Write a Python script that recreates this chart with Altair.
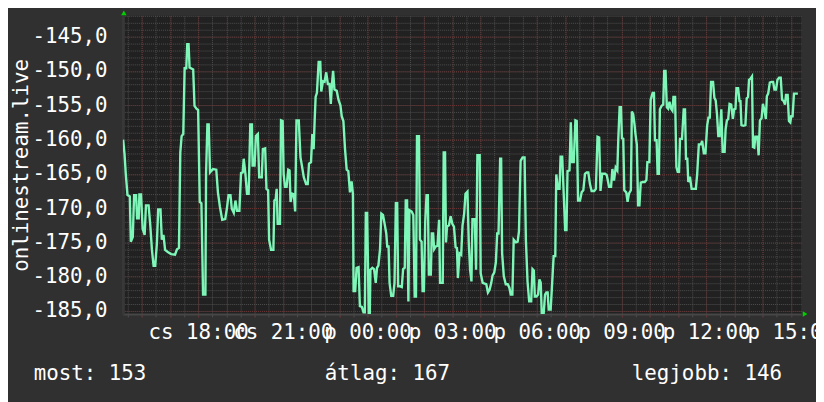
import altair as alt
import pandas as pd

# ---- data: minutes after Thursday 18:00 ----
t1 = [-159.5, -156.5, -153.7, -150.2, -145.2, -143.1, -138.9, -136.1, -131.9, -129.8,
      -126.3, -124.9, -121.4, -117.9, -113.7, -110.9, -105.3, -101.7, -98.2, -94.7,
      -91.2, -87.7, -84.9, -80.0, -77.2, -73.7, -70.2, -64.5, -57.5, -49.1,
      -44.9, -40.7, -37.9, -35.1, -31.6, -28.7, -25.2, -23.1, -20.3, -18.2,
      -10.5, -7.7, -3.5, 0.0, 3.5, 7.0, 10.5, 15.5, 16.9, 19.7,
      22.5, 25.3, 31.6, 38.6, 42.1, 46.3, 51.2, 57.6, 61.1, 64.6,
      68.8, 71.6, 75.8, 79.3, 82.8, 87.7, 91.2, 94.8, 96.9, 100.4,
      103.9, 107.4, 110.9, 114.4, 115.8, 120.0]
v1 = [-160.0, -162.1, -165.1, -168.1, -168.3, -174.9, -174.2, -168.1, -168.1, -171.5,
      -171.5, -168.0, -168.0, -173.0, -173.9, -169.6, -169.6, -172.5, -176.1, -178.4,
      -178.4, -175.2, -170.2, -170.2, -174.6, -173.9, -176.1, -176.4, -176.7, -176.8,
      -176.0, -175.8, -161.9, -159.5, -159.2, -149.6, -149.6, -146.1, -146.1, -149.5,
      -149.8, -155.1, -155.5, -155.7, -169.1, -169.3, -182.6, -182.6, -165.0, -157.8,
      -157.8, -164.8, -164.3, -164.4, -167.7, -169.8, -171.7, -171.6, -170.1, -168.1,
      -168.1, -170.1, -170.7, -168.9, -170.4, -170.4, -164.9, -164.8, -162.8, -164.9,
      -167.9, -167.9, -157.8, -157.8, -163.8, -163.8]

t2 = [122.8, 127.0, 129.8, 135.4, 137.6, 142.5, 145.3, 148.8, 150.9, 155.1,
      160.0, 162.1, 164.9, 167.0, 169.1, 174.0, 176.2, 179.7, 181.8, 184.6,
      188.1, 191.6, 194.4, 196.5, 200.0, 203.5, 206.3, 209.1, 214.0, 217.6,
      221.1, 224.6, 229.5, 233.0, 235.8, 240.0, 242.8, 245.6, 247.7, 249.8,
      252.6, 256.2, 259.7, 261.8, 265.3, 268.8, 272.3, 275.8, 279.3, 282.1,
      284.9, 287.0, 289.8, 294.7, 298.3, 302.5, 305.3, 308.8, 312.3, 315.8,
      319.3, 322.8, 326.3, 329.1, 330.5, 334.0, 336.9, 341.1, 343.9, 348.1,
      351.6, 354.4, 356.5, 359.3, 362.8, 364.9, 366.3, 370.5, 374.0, 377.6,
      380.4, 383.2, 386.7, 389.5, 393.0, 396.5, 400.0]
v2 = [-159.5, -159.2, -165.5, -165.5, -161.4, -161.3, -167.2, -167.4, -174.6, -176.1,
      -176.1, -168.9, -168.7, -167.2, -172.3, -172.3, -157.2, -157.3, -165.0, -166.9,
      -166.9, -164.4, -164.5, -169.1, -167.9, -168.0, -170.5, -157.2, -157.2, -162.6,
      -164.0, -165.5, -166.5, -166.5, -163.5, -163.3, -159.2, -161.4, -157.3, -153.8,
      -153.2, -148.7, -148.7, -153.0, -151.5, -151.6, -150.2, -151.9, -151.9, -154.8,
      -151.6, -150.0, -152.7, -152.9, -154.2, -155.0, -156.6, -157.3, -161.4, -164.4,
      -164.6, -167.7, -166.1, -167.9, -182.1, -182.1, -178.7, -178.6, -184.3, -184.4,
      -185.2, -185.2, -170.7, -170.7, -185.5, -185.5, -179.0, -178.7, -178.9, -180.9,
      -178.7, -178.4, -176.0, -170.8, -171.0, -172.3, -173.7]

t3 = [402.1, 404.9, 407.0, 410.5, 414.7, 417.5, 420.4, 423.2, 425.3, 429.5,
      433.0, 435.8, 439.3, 441.4, 444.2, 447.0, 449.1, 454.0, 457.5, 460.4,
      463.2, 465.3, 469.5, 471.6, 475.1, 477.2, 480.0, 482.8, 485.6, 488.4,
      490.5, 494.7, 496.8, 499.6, 501.8, 505.3, 508.8, 512.3, 514.4, 520.0,
      522.1, 524.9, 527.0, 529.1, 533.3, 536.8, 540.4, 543.9, 547.4, 550.2,
      552.3, 555.8, 559.3, 562.1, 565.6, 568.4, 572.6, 575.4, 578.2, 581.1,
      583.2, 588.1, 590.9, 593.7, 598.6, 600.7, 604.9, 609.1, 612.6, 616.1,
      619.6, 623.2, 626.0, 629.5, 633.0, 635.8, 638.6, 642.1, 644.2, 646.3,
      649.8, 654.0, 658.2, 661.7, 664.6, 668.1, 670.9, 675.8, 679.3, 682.1,
      685.6, 689.8]
v3 = [-175.6, -175.6, -180.9, -182.8, -182.8, -180.9, -169.3, -169.3, -181.4, -181.4,
      -181.5, -178.9, -178.7, -168.9, -168.9, -183.6, -170.3, -170.5, -171.0, -182.9,
      -182.9, -159.5, -159.5, -174.6, -174.9, -182.1, -182.1, -172.0, -168.1, -168.1,
      -179.7, -179.7, -173.7, -173.7, -176.0, -175.6, -175.5, -171.7, -180.9, -180.9,
      -161.9, -161.9, -175.0, -172.7, -172.5, -171.2, -172.3, -172.7, -175.7, -175.8,
      -180.2, -176.6, -176.8, -172.5, -170.8, -167.9, -167.6, -175.1, -179.0, -180.7,
      -171.6, -171.6, -179.0, -162.3, -162.3, -179.5, -180.9, -181.0, -181.1, -182.3,
      -181.9, -180.9, -179.8, -179.4, -177.9, -173.7, -173.7, -162.8, -162.8, -176.6,
      -179.9, -181.1, -181.1, -181.6, -182.6, -182.6, -174.6, -175.0, -174.9, -173.4,
      -163.1, -162.6]

t4 = [694.0, 696.8, 700.3, 703.8, 708.1, 710.9, 713.7, 715.8, 719.3, 722.8,
      725.6, 728.4, 730.5, 734.7, 737.5, 740.3, 743.1, 745.3, 749.5, 752.3,
      755.8, 759.3, 761.4, 764.9, 768.4, 770.5, 774.0, 776.8, 780.3, 783.1,
      785.3, 789.5, 792.3, 795.1, 798.6, 802.1, 804.9, 807.7, 811.9, 815.4,
      818.9, 822.4, 826.0, 829.5, 833.0, 836.5, 842.1, 845.6, 849.1, 852.6,
      855.4, 858.9, 865.3, 868.8, 873.7, 877.9, 880.7, 884.2, 887.7, 891.2,
      893.3, 896.1, 898.9, 901.0, 903.8, 906.0, 910.2, 913.0, 915.8, 920.0,
      922.1, 924.9, 927.7, 929.8, 932.6, 935.4, 938.2, 941.0, 945.3, 949.5,
      953.0, 955.1, 959.3, 962.1, 966.3, 969.1, 971.2, 974.7]
v4 = [-162.6, -174.6, -180.7, -183.6, -183.6, -178.9, -179.1, -182.9, -182.9, -182.6,
      -180.4, -180.9, -185.3, -185.3, -182.6, -182.3, -182.3, -184.8, -184.8, -181.4,
      -177.0, -177.0, -165.1, -167.2, -167.2, -162.5, -162.5, -167.2, -173.2, -173.2,
      -164.6, -164.5, -157.5, -163.3, -163.3, -157.2, -157.3, -168.9, -168.9, -167.7,
      -167.4, -165.0, -164.8, -164.8, -166.5, -167.5, -167.5, -167.2, -159.6, -159.7,
      -167.5, -165.0, -165.0, -165.2, -166.9, -166.9, -164.3, -166.0, -164.1, -164.5,
      -159.9, -155.3, -155.3, -159.8, -159.9, -167.4, -167.7, -169.1, -167.9, -167.4,
      -155.9, -156.3, -157.8, -159.2, -160.7, -169.6, -169.6, -166.3, -166.2, -166.2,
      -165.9, -163.3, -163.3, -154.2, -153.2, -153.2, -160.1, -160.1]

t5 = [976.8, 979.6, 981.7, 985.2, 988.8, 990.9, 993.7, 996.5, 999.3, 1002.1,
      1005.6, 1008.4, 1010.5, 1014.0, 1016.8, 1019.6, 1022.4, 1024.5, 1028.7, 1032.3,
      1035.1, 1037.2, 1040.0, 1042.1, 1045.6, 1049.1, 1054.0, 1058.2, 1061.0, 1064.5,
      1068.8, 1071.6, 1075.1, 1078.6, 1082.1, 1084.9, 1087.7, 1090.5, 1094.7, 1097.5,
      1100.3, 1103.1, 1105.9, 1108.8, 1112.3, 1115.1, 1119.3, 1121.4, 1124.2, 1127.0,
      1129.8, 1133.3, 1136.8, 1139.6, 1142.4, 1144.5, 1148.0, 1150.9, 1153.0, 1155.1,
      1159.3, 1163.5, 1166.3, 1169.1, 1171.2, 1174.7, 1177.5, 1179.6, 1182.4, 1184.5,
      1188.7, 1191.6, 1194.4, 1197.9, 1200.7, 1204.2, 1207.0, 1209.1, 1211.9, 1215.4,
      1218.9, 1222.4, 1225.2, 1228.7, 1231.6, 1235.1, 1238.6, 1241.4, 1244.9, 1247.7,
      1249.8, 1253.3, 1256.1, 1258.9, 1261.0, 1263.8, 1266.7, 1272.3, 1275.1]
v5 = [-165.0, -165.0, -155.6, -155.1, -154.9, -150.0, -150.0, -155.3, -155.5, -154.5,
      -155.5, -155.8, -153.8, -153.8, -164.0, -164.7, -164.7, -159.9, -159.9, -155.6,
      -155.6, -162.8, -162.8, -166.2, -165.4, -167.2, -167.2, -167.2, -165.0, -160.7,
      -160.7, -160.2, -162.0, -162.0, -158.0, -156.8, -156.8, -151.6, -151.6, -153.9,
      -154.3, -156.3, -159.5, -159.5, -155.6, -161.8, -161.8, -158.5, -157.2, -157.0,
      -154.8, -154.9, -157.0, -155.6, -155.5, -152.5, -152.5, -154.4, -154.4, -157.9,
      -158.0, -157.9, -154.0, -153.8, -151.3, -151.1, -150.8, -161.1, -161.2, -159.6,
      -159.6, -162.3, -157.2, -156.9, -154.8, -155.8, -157.0, -153.7, -153.3, -151.7,
      -151.6, -151.6, -152.7, -152.7, -151.3, -151.0, -151.0, -154.2, -154.4, -154.9,
      -153.5, -153.5, -157.3, -157.5, -156.6, -156.6, -153.3, -153.3, -153.3]

tick_minutes = [0, 180, 360, 540, 720, 900, 1080, 1260]
tick_labels = ["cs 18:00", "cs 21:00", "p 00:00", "p 03:00",
               "p 06:00", "p 09:00", "p 12:00", "p 15:00"]
legend_texts = ["most: 153", "átlag: 167", "legjobb: 146"]
series_name = "onlinestream.live"

X_DOMAIN = [-160, 1282]
Y_DOMAIN = [-185.43, -141.97]

# ---- style ----
FONT = "DejaVu Sans Mono"
FS = 21
BG = "#303030"
PLOT_BG = "#212121"
MINOR = "#4f4f4f"
MAJOR = "#683131"
LINE = "#7ef6b8"
ARROW = "#00d000"
legend_x = [-90, 204, 514]
legend_y = 368

minutes = t1 + t2 + t3 + t4 + t5
values = v1 + v2 + v3 + v4 + v5
df = pd.DataFrame({"t": minutes, "v": values})

xs = alt.Scale(domain=X_DOMAIN, nice=False, zero=False)
ys = alt.Scale(domain=Y_DOMAIN, nice=False, zero=False)


def grid_layer(xvals, yvals, color):
    return alt.Chart(df).mark_line(opacity=0).encode(
        x=alt.X("t:Q", scale=xs, axis=alt.Axis(
            orient="bottom", values=xvals, grid=True, gridColor=color,
            gridDash=[1, 1], gridWidth=1, gridOpacity=1, labels=False,
            ticks=True, tickColor=color, tickSize=3, domain=False, title=None)),
        y=alt.Y("v:Q", scale=ys, axis=alt.Axis(
            orient="left", values=yvals, grid=True, gridColor=color,
            gridDash=[1, 1], gridWidth=1, gridOpacity=1, labels=False,
            ticks=False, domain=False, title=None)),
    )


minor = grid_layer(list(range(-150, 1290, 30)), list(range(-185, -141)), MINOR)
major = grid_layer(list(range(-120, 1290, 60)), list(range(-185, -144, 5)), MAJOR)

label_arr = "[" + ",".join("'%s'" % s for s in tick_labels) + "]"
labels = alt.Chart(df).mark_line(opacity=0).encode(
    x=alt.X("t:Q", scale=xs, axis=alt.Axis(
        orient="bottom", values=tick_minutes,
        labelExpr=label_arr + "[round(datum.value / 180)]",
        grid=False, ticks=False, domain=True, domainColor="#474747", domainWidth=2,
        labelColor="white", labelFont=FONT, labelFontSize=FS, labelPadding=8,
        labelOverlap=False, labelFlush=False, labelBound=False, title=None)),
    y=alt.Y("v:Q", scale=ys, axis=alt.Axis(
        orient="left", values=list(range(-185, -144, 5)),
        labelExpr="'-' + replace(format(abs(datum.value), '.1f'), '.', ',')",
        grid=False, ticks=False, domain=True, domainColor="#383838", domainWidth=3,
        labelColor="white", labelFont=FONT, labelFontSize=FS, labelPadding=16,
        labelOverlap=False, labelFlush=False,
        title=series_name, titleFont=FONT, titleFontSize=FS,
        titleFontWeight="normal", titleColor="white", titleAngle=270,
        titleX=-102, titleY=150.5, titleAlign="center", titleBaseline="middle")),
)

line = alt.Chart(df).mark_line(color=LINE, strokeWidth=2.4, clip=True).encode(
    x=alt.X("t:Q", scale=xs, axis=None),
    y=alt.Y("v:Q", scale=ys, axis=None),
)

up = alt.Chart(pd.DataFrame({"t": [X_DOMAIN[0]], "v": [Y_DOMAIN[1]]})).mark_point(
    shape="triangle-up", filled=True, color=ARROW, size=30, opacity=1,
    xOffset=1, yOffset=-3).encode(
    x=alt.X("t:Q", scale=xs, axis=None), y=alt.Y("v:Q", scale=ys, axis=None))
right = alt.Chart(pd.DataFrame({"t": [X_DOMAIN[1]], "v": [Y_DOMAIN[0]]})).mark_point(
    shape="triangle-right", filled=True, color=ARROW, size=30, opacity=1,
    xOffset=4, yOffset=0).encode(
    x=alt.X("t:Q", scale=xs, axis=None), y=alt.Y("v:Q", scale=ys, axis=None))

texts = []
for txt, xp in zip(legend_texts, legend_x):
    texts.append(alt.Chart(pd.DataFrame({"s": [txt]})).mark_text(
        align="left", baseline="alphabetic", font=FONT, fontSize=FS, color="white"
    ).encode(x=alt.value(xp), y=alt.value(legend_y), text="s:N"))

chart = alt.layer(minor, major, labels, line, up, right, *texts).resolve_axis(
    x="independent", y="independent"
).properties(
    width=685, height=301,
    autosize=alt.AutoSizeParams(type="none"),
    padding={"left": 116, "top": 6, "right": 15, "bottom": 87},
    background=BG,
).configure_view(fill=PLOT_BG, stroke=None)

chart.save("out.html", embed_options={"renderer": "svg", "actions": False})
